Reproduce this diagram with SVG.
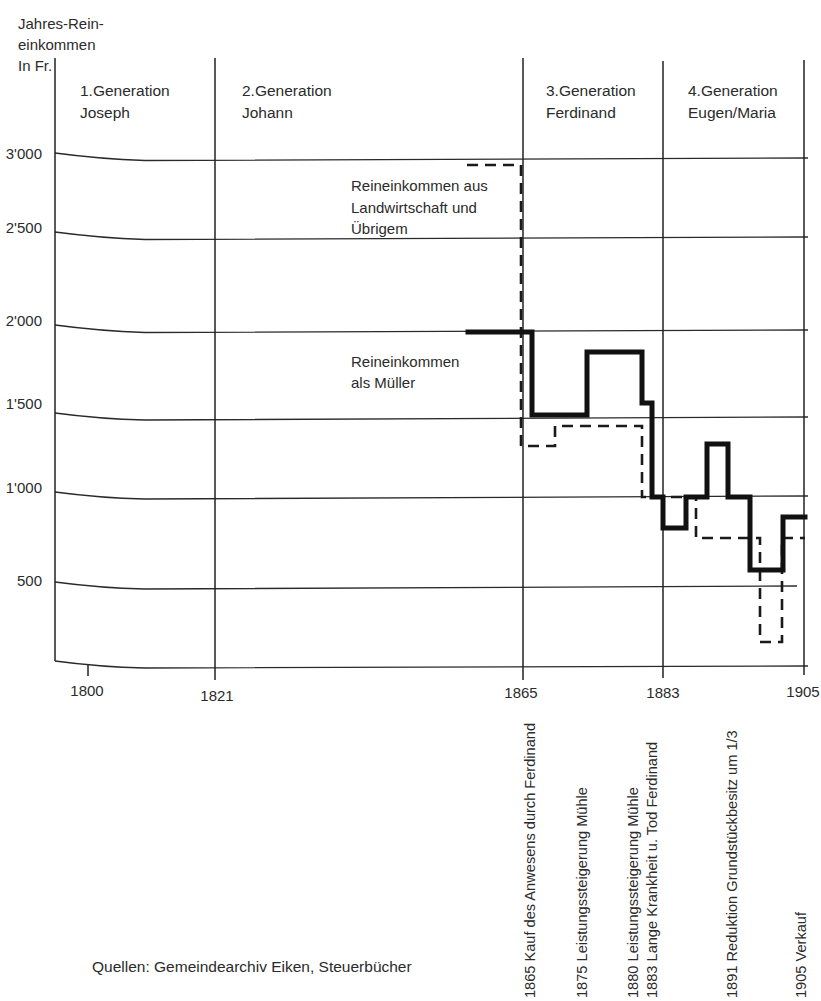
<svg xmlns="http://www.w3.org/2000/svg" width="821" height="1001" viewBox="0 0 821 1001">
<style>
text{font-family:"Liberation Sans",Arial,sans-serif;fill:#2b2b2b;font-size:15px}
.gen{font-size:15.5px}
.grid{fill:none;stroke:#2a2a2a;stroke-width:1.3}
.vl{fill:none;stroke:#222;stroke-width:1.5}
.muller{fill:none;stroke:#111;stroke-width:5;stroke-linejoin:miter;stroke-linecap:square}
.land{fill:none;stroke:#1a1a1a;stroke-width:2.6;stroke-dasharray:11 7}
.ev{font-size:14.6px}
.yl{text-anchor:end}
.xl{text-anchor:middle}
</style>
<rect width="821" height="1001" fill="#fff"/>
<g id="grid">
<path class="grid" d="M55,153 Q100,159 145,160.5 L808,158"/>
<path class="grid" d="M55,232 Q100,238 145,239.5 L808,237"/>
<path class="grid" d="M55,325 Q100,331 145,332.5 L808,330"/>
<path class="grid" d="M55,413 Q100,419 145,420 L808,417"/>
<path class="grid" d="M55,492 Q100,498 145,499 L808,496"/>
<path class="grid" d="M55,582 Q100,588 145,589 L797,586"/>
<path class="grid" d="M55,661 Q100,667 145,668 L808,666"/>
<line class="vl" x1="55" y1="58" x2="55" y2="661"/>
<line class="vl" x1="215" y1="58" x2="215" y2="680"/>
<line class="vl" x1="523" y1="58" x2="523" y2="680"/>
<line class="vl" x1="663" y1="61" x2="663" y2="678"/>
<line class="vl" x1="804" y1="60" x2="804" y2="675"/>
<line class="vl" x1="88" y1="665" x2="88" y2="676"/>
</g>
<g id="axis-title">
<text x="18" y="29">Jahres-Rein-</text>
<text x="18" y="50">einkommen</text>
<text x="18" y="71">In Fr.</text>
</g>
<g id="y-labels">
<text class="yl" x="42" y="159">3'000</text>
<text class="yl" x="42" y="233">2'500</text>
<text class="yl" x="42" y="326">2'000</text>
<text class="yl" x="42" y="409">1'500</text>
<text class="yl" x="42" y="493">1'000</text>
<text class="yl" x="42" y="586">500</text>
</g>
<g id="x-labels">
<text class="xl" x="87" y="696">1800</text>
<text class="xl" x="217" y="701">1821</text>
<text class="xl" x="521" y="698">1865</text>
<text class="xl" x="663" y="698">1883</text>
<text class="xl" x="803" y="697">1905</text>
</g>
<g id="generations">
<text class="gen" x="80" y="96">1.Generation</text>
<text class="gen" x="80" y="118">Joseph</text>
<text class="gen" x="242" y="96">2.Generation</text>
<text class="gen" x="242" y="118">Johann</text>
<text class="gen" x="546" y="96">3.Generation</text>
<text class="gen" x="546" y="118">Ferdinand</text>
<text class="gen" x="688" y="96">4.Generation</text>
<text class="gen" x="688" y="118">Eugen/Maria</text>
</g>
<g id="series-land">
<path class="land" d="M467,165 H521 V446 H555 V426 H642 V497 H696 V538 H760 V642 H782 V538 H805"/>
<text x="351" y="191">Reineinkommen aus</text>
<text x="351" y="213">Landwirtschaft und</text>
<text x="351" y="234">Übrigem</text>
</g>
<g id="series-muller">
<path class="muller" d="M468,332 H532 V415 H587 V352 H642 V403 H652 V497 H663 V528 H686 V497 H707 V444 H728 V497 H750 V570 H783 V517 H805"/>
<text x="351" y="367">Reineinkommen</text>
<text x="351" y="388">als Müller</text>
</g>
<g id="events">
<text class="ev" transform="translate(535,998) rotate(-90)">1865 Kauf des Anwesens durch Ferdinand</text>
<text class="ev" transform="translate(587,998) rotate(-90)">1875 Leistungssteigerung Mühle</text>
<text class="ev" transform="translate(638,998) rotate(-90)">1880 Leistungssteigerung Mühle</text>
<text class="ev" transform="translate(657,998) rotate(-90)">1883 Lange Krankheit u. Tod Ferdinand</text>
<text class="ev" transform="translate(737,998) rotate(-90)">1891 Reduktion Grundstückbesitz um 1/3</text>
<text class="ev" transform="translate(806,998) rotate(-90)">1905 Verkauf</text>
</g>
<g id="source">
<text x="92" y="972" style="font-size:15.5px">Quellen: Gemeindearchiv Eiken, Steuerbücher</text>
</g>
</svg>
